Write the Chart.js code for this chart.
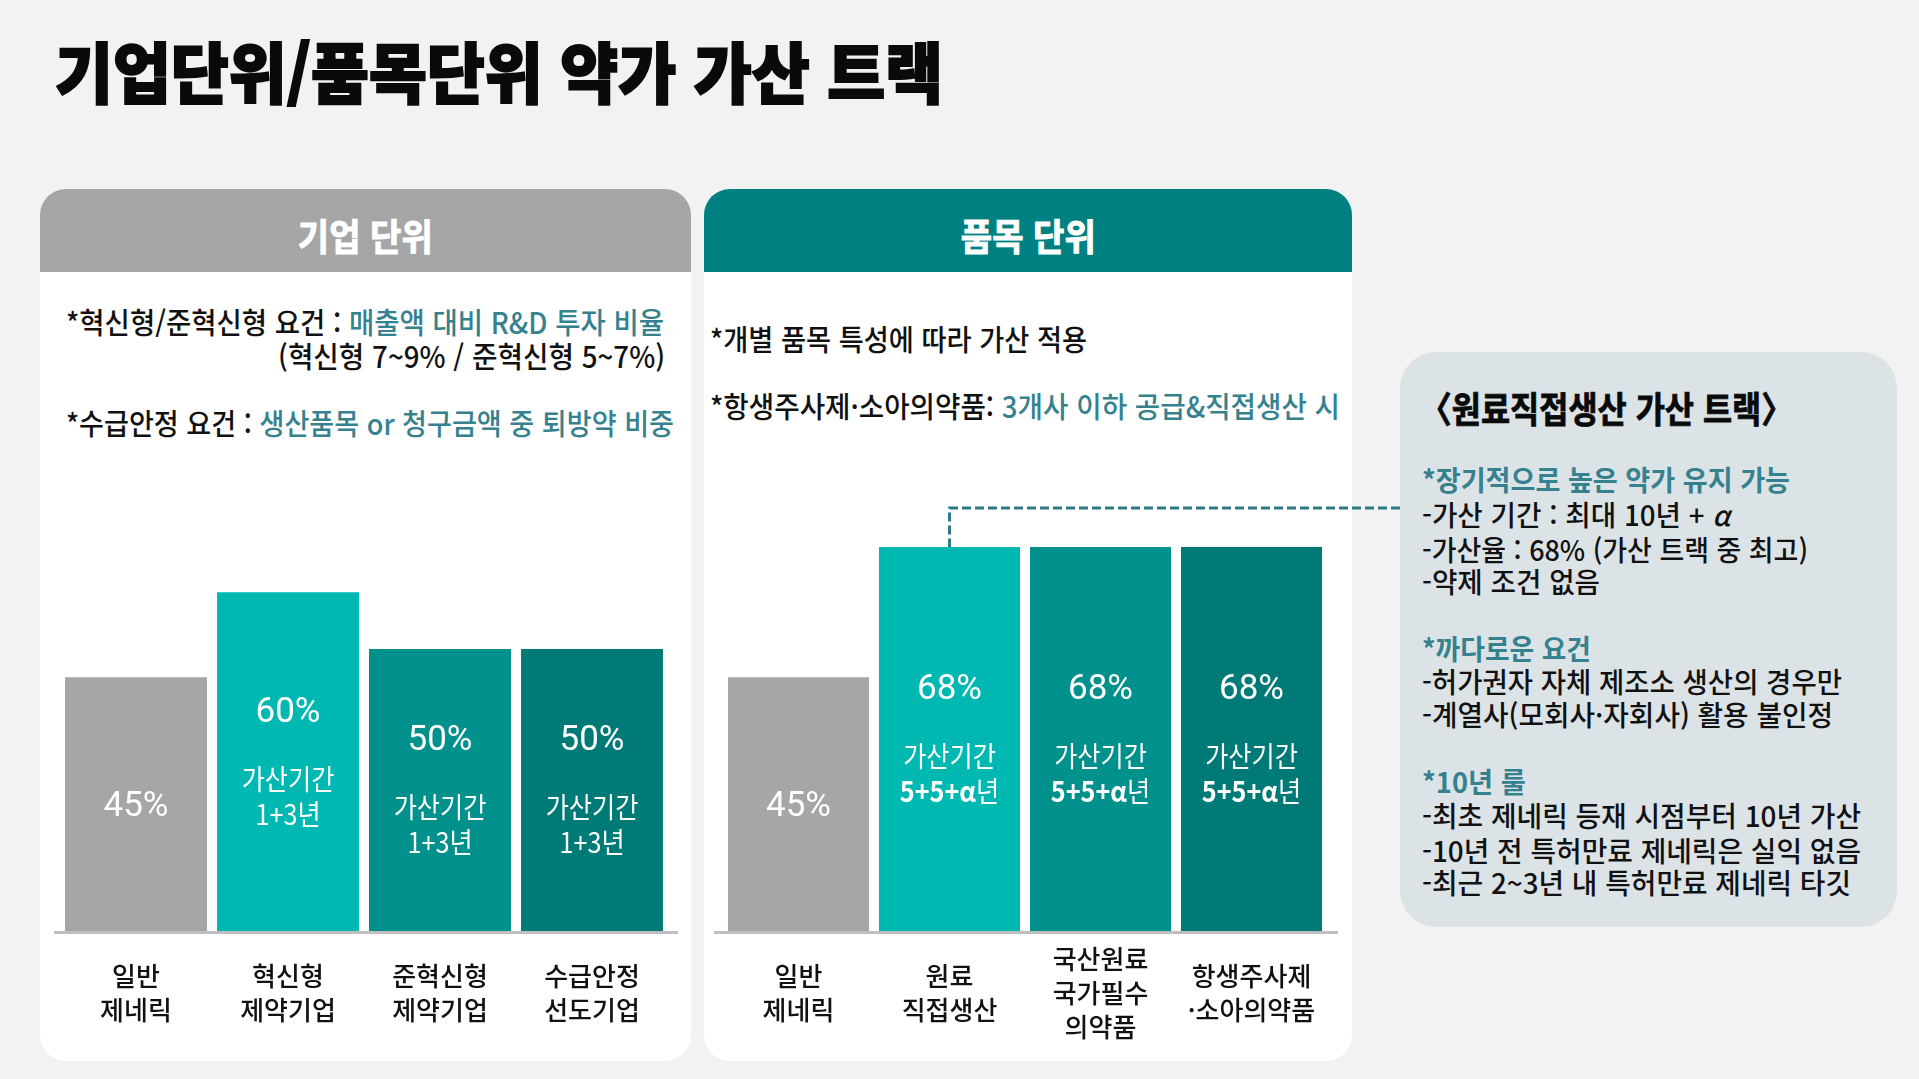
<!DOCTYPE html>
<html lang="ko">
<head>
<meta charset="utf-8">
<script src="https://cdn.jsdelivr.net/npm/chart.js@4.4.1/dist/chart.umd.min.js"></script>
<style>
html,body{margin:0;padding:0;background:#f2f2f2;}
body{width:1919px;height:1079px;position:relative;overflow:hidden;font-family:"Noto Sans CJK KR","Noto Sans",sans-serif;color:#111;}
.t{position:absolute;white-space:nowrap;transform-origin:left center;}
.teal{color:#35818e;}
.panel{position:absolute;background:#fff;border-radius:26px;overflow:hidden;}
.head{position:absolute;left:0;top:0;right:0;height:83px;}
.box{position:absolute;left:1400px;top:352px;width:497px;height:575px;background:#dce3e7;border-radius:36px;}
canvas{position:absolute;}
.n{font-size:29px;line-height:34px;font-weight:500;}
.b{font-size:28px;line-height:34px;font-weight:500;}
.bold{font-weight:700;}
</style>
</head>
<body>

<div class="t" data-w="888" style="left:55px;top:29px;font-size:66px;line-height:80px;font-weight:900;color:#0a0a0a;-webkit-text-stroke:2px #0a0a0a;">기업단위/품목단위 약가 가산 트랙</div>

<div class="panel" style="left:40px;top:189px;width:651px;height:872px;"><div class="head" style="background:#a6a6a6;"></div></div>
<div class="panel" style="left:704px;top:189px;width:648px;height:872px;"><div class="head" style="background:#008080;"></div></div>

<div class="t" data-w="135" data-cx="365.5" style="top:213px;font-size:37px;line-height:44px;font-weight:700;color:#fff;-webkit-text-stroke:1px #fff;">기업 단위</div>
<div class="t" data-w="135" data-cx="1028" style="top:213px;font-size:37px;line-height:44px;font-weight:700;color:#fff;-webkit-text-stroke:1px #fff;">품목 단위</div>

<div class="t n" data-w="598" style="left:66px;top:304px;">*혁신형/준혁신형 요건 : <span class="teal">매출액 대비 R&amp;D 투자 비율</span></div>
<div class="t n" data-w="387" data-rx="665" style="top:338px;">(혁신형 7~9% / 준혁신형 5~7%)</div>
<div class="t n" data-w="608" style="left:66px;top:405px;">*수급안정 요건 : <span class="teal">생산품목 or 청구금액 중 퇴방약 비중</span></div>

<div class="t n" data-w="377" style="left:710px;top:321px;">*개별 품목 특성에 따라 가산 적용</div>
<div class="t n" data-w="630" style="left:710px;top:388px;">*항생주사제·소아의약품: <span class="teal">3개사 이하 공급&amp;직접생산 시</span></div>

<div class="box"></div>
<div class="t bold" data-w="373" style="left:1420px;top:387px;font-size:36px;line-height:40px;color:#0a0a0a;-webkit-text-stroke:0.8px #0a0a0a;">〈원료직접생산 가산 트랙〉</div>
<div class="t b bold teal" data-w="368" style="left:1422px;top:462px;">*장기적으로 높은 약가 유지 가능</div>
<div class="t b" data-w="308" style="left:1422px;top:497px;">-가산 기간 : 최대 10년 + <i>α</i></div>
<div class="t b" data-w="386" style="left:1422px;top:532px;">-가산율 : 68% (가산 트랙 중 최고)</div>
<div class="t b" data-w="178" style="left:1422px;top:564px;">-약제 조건 없음</div>
<div class="t b bold teal" data-w="169" style="left:1422px;top:631px;">*까다로운 요건</div>
<div class="t b" data-w="420" style="left:1422px;top:664px;">-허가권자 자체 제조소 생산의 경우만</div>
<div class="t b" data-w="411" style="left:1422px;top:697px;">-계열사(모회사·자회사) 활용 불인정</div>
<div class="t b bold teal" data-w="104" style="left:1422px;top:764px;">*10년 룰</div>
<div class="t b" data-w="439" style="left:1422px;top:798px;">-최초 제네릭 등재 시점부터 10년 가산</div>
<div class="t b" data-w="439" style="left:1422px;top:833px;">-10년 전 특허만료 제네릭은 실익 없음</div>
<div class="t b" data-w="429" style="left:1422px;top:865px;">-최근 2~3년 내 특허만료 제네릭 타깃</div>

<canvas id="leftChart" width="651" height="581" style="left:40px;top:479px;"></canvas>
<canvas id="rightChart" width="696" height="581" style="left:704px;top:479px;"></canvas>

<script>
// ---- data ----
const leftCategories = [['일반','제네릭'],['혁신형','제약기업'],['준혁신형','제약기업'],['수급안정','선도기업']];
const leftValues = [45, 60, 50, 50];
const leftPeriods = ['', '1+3|년', '1+3|년', '1+3|년'];

const rightCategories = [['일반','제네릭'],['원료','직접생산'],['국산원료','국가필수','의약품'],['항생주사제','·소아의약품']];
const rightValues = [45, 68, 68, 68];
const rightPeriods = ['', '5+5+α|년', '5+5+α|년', '5+5+α|년'];

const periodTitle = '가산기간';
const yMin = 0, yMax = 80;

// ---- styles ----
const barColors = ['#a6a6a6', '#00b8b2', '#00918c', '#007a76'];
const KR = '"Noto Sans CJK KR", "Noto Sans", sans-serif';

function fitText(){
  document.querySelectorAll('.t[data-w]').forEach(el=>{
    el.style.transform='none';
    const nat = el.getBoundingClientRect().width;
    const w = parseFloat(el.dataset.w);
    const s = w / nat;
    if (el.dataset.cx){
      el.style.left = (parseFloat(el.dataset.cx) - nat/2) + 'px';
      el.style.transformOrigin = 'center center';
    } else if (el.dataset.rx){
      el.style.left = (parseFloat(el.dataset.rx) - nat) + 'px';
      el.style.transformOrigin = 'right center';
    }
    el.style.transform = 'scaleX(' + s + ')';
  });
}

function drawScaled(ctx, parts, cx, cy, sx){
  let total = 0;
  parts.forEach(p=>{ctx.font=p.font; p.w = ctx.measureText(p.text).width; total += p.w;});
  ctx.save();
  ctx.translate(cx, cy);
  ctx.scale(sx, 1);
  let x = -total/2;
  ctx.textAlign='left';
  parts.forEach(p=>{ctx.font=p.font; ctx.fillText(p.text, x, 0); x += p.w;});
  ctx.restore();
}

const barLabelPlugin = {
  id: 'barLabels',
  afterDatasetsDraw(chart, args, opts){
    const ctx = chart.ctx;
    const meta = chart.getDatasetMeta(0);
    const vals = chart.data.datasets[0].data;
    meta.data.forEach((bar, i)=>{
      const cy = (bar.y + bar.base) / 2;
      const p = opts.periods[i];
      ctx.save();
      ctx.fillStyle = '#ffffff';
      ctx.textAlign = 'center';
      ctx.textBaseline = 'middle';
      ctx.font = '400 35px Roboto, "Noto Sans", sans-serif';
      ctx.fillText(vals[i] + '%', bar.x, (p ? cy - 52 : cy) + 3);
      if (p){
        drawScaled(ctx, [{text: periodTitle, font: '400 28px ' + KR}], bar.x, cy + 17, 0.9);
        const [num, unit] = p.split('|');
        drawScaled(ctx, [{text: num, font: (opts.boldNum ? '700 ' : '400 ') + '28px ' + KR},
                         {text: unit, font: '400 28px ' + KR}], bar.x, cy + 52, 0.9);
      }
      ctx.restore();
    });
  }
};

const baselinePlugin = {
  id: 'baseline',
  afterDatasetsDraw(chart, args, opts){
    const ctx = chart.ctx;
    const y = chart.scales.y.getPixelForValue(0);
    const {left, right} = chart.chartArea;
    ctx.save();
    ctx.strokeStyle = '#bfbfbf';
    ctx.lineWidth = 3;
    ctx.beginPath();
    ctx.moveTo(left - opts.extL, y + 0.5);
    ctx.lineTo(right + opts.extR, y + 0.5);
    ctx.stroke();
    ctx.restore();
  }
};

const connectorPlugin = {
  id: 'connector',
  afterDatasetsDraw(chart, args, opts){
    if (opts.index == null) return;
    const bar = chart.getDatasetMeta(0).data[opts.index];
    const ctx = chart.ctx;
    const yTop = bar.y - opts.rise;
    ctx.save();
    ctx.strokeStyle = '#2e7b86';
    ctx.lineWidth = 3;
    ctx.setLineDash([9, 4]);
    ctx.beginPath();
    ctx.moveTo(chart.width, yTop);
    ctx.lineTo(bar.x, yTop);
    ctx.lineTo(bar.x, bar.y);
    ctx.stroke();
    ctx.restore();
  }
};

function makeChart(id, cats, vals, periods, o){
  return new Chart(document.getElementById(id), {
    type: 'bar',
    data: {
      labels: cats,
      datasets: [{
        data: vals,
        backgroundColor: barColors,
        borderWidth: 0,
        barPercentage: 0.934,
        categoryPercentage: 1
      }]
    },
    options: {
      responsive: false,
      animation: false,
      events: [],
      layout: {padding: {left: o.padL, right: o.padR, top: 0, bottom: 0}},
      plugins: {
        legend: {display: false},
        tooltip: {enabled: false},
        barLabels: {periods: periods, boldNum: o.boldNum},
        baseline: {extL: o.extL, extR: o.extR},
        connector: {index: o.connIndex, rise: 39}
      },
      scales: {
        x: {
          grid: {display: false, drawTicks: false, tickLength: 0},
          border: {display: false},
          ticks: {
            autoSkip: false, maxRotation: 0, minRotation: 0,
            padding: 27, crossAlign: o.crossAlign,
            color: '#111111',
            font: {family: KR, size: 26, weight: 500, lineHeight: 34/26}
          },
          afterFit(scale){ scale.height = 128; }
        },
        y: {display: false, min: yMin, max: yMax}
      }
    },
    plugins: [baselinePlugin, barLabelPlugin, connectorPlugin]
  });
}

fitText();
const charts = [
  makeChart('leftChart', leftCategories, leftValues, leftPeriods,
    {padL: 20, padR: 23, extL: 6, extR: 10, crossAlign: 'near', boldNum: false, connIndex: null}),
  makeChart('rightChart', rightCategories, rightValues, rightPeriods,
    {padL: 19, padR: 73, extL: 9, extR: 11, crossAlign: 'center', boldNum: true, connIndex: 1})
];
if (document.fonts && document.fonts.ready){
  document.fonts.ready.then(()=>{ fitText(); charts.forEach(c=>c.update()); });
}
</script>
</body>
</html>
